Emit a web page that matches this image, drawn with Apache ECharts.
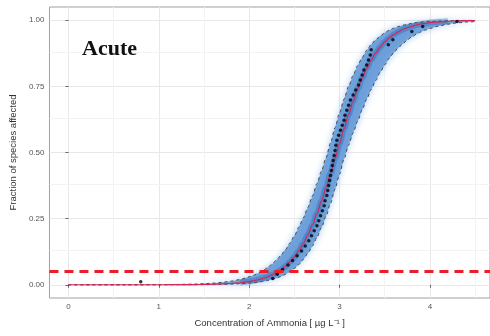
<!DOCTYPE html>
<html>
<head>
<meta charset="utf-8">
<script src="https://cdn.jsdelivr.net/npm/echarts@6/dist/echarts.min.js"></script>
<style>
  html, body { margin: 0; padding: 0; background: #fff; }
  #main { width: 490px; height: 336px; }
</style>
</head>
<body>
<div id="main"></div>
<script type="text/javascript">
// curve grid (log10 concentration) and fitted SSD curves
var curveX = [0, 0.6, 1.0, 1.1, 1.2, 1.3, 1.4, 1.5, 1.6, 1.7, 1.8, 1.9,
  2.0, 2.05, 2.1, 2.15, 2.2, 2.25, 2.3, 2.35, 2.4, 2.45, 2.5, 2.55, 2.6, 2.65, 2.7, 2.75, 2.8, 2.85, 2.9, 2.95,
  3.0, 3.05, 3.1, 3.15, 3.2, 3.25, 3.3, 3.35, 3.4, 3.45, 3.5, 3.55, 3.6, 3.65, 3.7, 3.75, 3.8, 3.85, 3.9, 3.95,
  4.0, 4.1, 4.2, 4.3, 4.4, 4.5];
var medianFit = [0, 0, 0.0001, 0.0002, 0.0003, 0.0005, 0.0008, 0.0013, 0.0020, 0.0031, 0.0049, 0.0077,
  0.012, 0.0151, 0.019, 0.0235, 0.029, 0.0366, 0.045, 0.0563, 0.070, 0.0862, 0.105, 0.129, 0.157, 0.190, 0.226,
  0.269, 0.316, 0.367, 0.421, 0.477, 0.534, 0.590, 0.644, 0.694, 0.740, 0.781, 0.818, 0.849, 0.876, 0.898, 0.918,
  0.933, 0.946, 0.956, 0.965, 0.972, 0.977, 0.982, 0.986, 0.988,
  0.991, 0.994, 0.996, 0.998, 0.9985, 0.999];
var upperCI = [0, 0, 0.0005, 0.0008, 0.0013, 0.0019, 0.0028, 0.0042, 0.0062, 0.0092, 0.0137, 0.020,
  0.030, 0.036, 0.044, 0.053, 0.064, 0.077, 0.093, 0.111, 0.132, 0.157, 0.185, 0.218, 0.254, 0.293, 0.336,
  0.382, 0.430, 0.480, 0.536, 0.594, 0.650, 0.702, 0.750, 0.791, 0.828, 0.859, 0.886, 0.908, 0.926, 0.940, 0.953,
  0.962, 0.970, 0.976, 0.981, 0.985, 0.988, 0.991, 0.993, 0.994,
  0.995, 0.997, 0.998, 0.999, 0.9993, 0.9995];
var lowerCI = [0, 0, 0, 0.0001, 0.0001, 0.0002, 0.0004, 0.0006, 0.0009, 0.0015, 0.0024, 0.0038,
  0.0061, 0.0077, 0.0098, 0.0124, 0.0157, 0.0198, 0.025, 0.031, 0.039, 0.050, 0.062, 0.077, 0.096, 0.119, 0.147,
  0.179, 0.216, 0.259, 0.308, 0.361, 0.418, 0.476, 0.528, 0.574, 0.618, 0.661, 0.701, 0.738, 0.772, 0.803, 0.831,
  0.856, 0.877, 0.896, 0.911, 0.926, 0.937, 0.947, 0.956, 0.963,
  0.969, 0.978, 0.985, 0.990, 0.993, 0.995];

// species toxicity values (x) and their plotting positions (y)
var speciesX = [0.80, 2.26, 2.31, 2.37, 2.43, 2.48, 2.53, 2.58, 2.62, 2.66, 2.69, 2.72, 2.75, 2.77, 2.79, 2.81,
  2.83, 2.84, 2.86, 2.87, 2.88, 2.89, 2.90, 2.91, 2.92, 2.93, 2.94, 2.95, 2.96, 2.97, 2.99, 3.01, 3.03, 3.05, 3.06,
  3.08, 3.10, 3.12, 3.15, 3.18, 3.21, 3.23, 3.25, 3.27, 3.30, 3.32, 3.34, 3.35, 3.54, 3.59, 3.80, 3.92, 4.30];
var speciesY = [0.011, 0.024, 0.040, 0.058, 0.075, 0.092, 0.110, 0.128, 0.147, 0.166, 0.185, 0.204, 0.223, 0.242,
  0.261, 0.280, 0.299, 0.318, 0.337, 0.356, 0.375, 0.394, 0.413, 0.432, 0.451, 0.470, 0.489, 0.508, 0.527, 0.546,
  0.565, 0.584, 0.603, 0.622, 0.641, 0.660, 0.679, 0.698, 0.717, 0.736, 0.755, 0.774, 0.793, 0.812, 0.831, 0.850,
  0.869, 0.888, 0.907, 0.926, 0.957, 0.976, 0.995];

var hazardLevel = 0.05;
var xTicks = [0, 1, 2, 3, 4];
var yTicks = [0, 0.25, 0.5, 0.75, 1];
var xMinor = [0.5, 1.5, 2.5, 3.5, 4.5];
var yMinor = [0.125, 0.375, 0.625, 0.875];

var pairs = function (xs, ys) {
  return xs.map(function (x, i) { return [x, ys[i]]; });
};
var coreData = pairs(curveX, medianFit).filter(function (d) { return d[0] >= 1.9 && d[0] <= 4.2; });

var minorLines = xMinor.map(function (v) { return { xAxis: v }; })
  .concat(yMinor.map(function (v) { return { yAxis: v }; }));

// confidence band drawn as one polygon: upper limit forward, lower limit back
function renderBand(params, api) {
  var pts = [];
  for (var i = 0; i < curveX.length; i++) pts.push(api.coord([curveX[i], upperCI[i]]));
  for (var j = curveX.length - 1; j >= 0; j--) pts.push(api.coord([curveX[j], lowerCI[j]]));
  return {
    type: 'polygon',
    shape: { points: pts },
    style: {
      fill: 'rgba(98,152,214,0.85)',
      shadowColor: 'rgba(140,186,236,0.9)', shadowBlur: 7
    }
  };
}

var myChart = echarts.init(document.getElementById('main'));
var option = {
  animation: false,
  backgroundColor: '#fff',
  title: {
    text: 'Acute',
    left: 77, top: 33,
    textStyle: { fontFamily: 'Liberation Serif', fontWeight: 'bold', fontSize: 22, color: '#111' }
  },
  grid: {
    left: 44, right: -1, top: 7, bottom: 38,
    show: true, borderColor: '#a0a0a0', borderWidth: 1
  },
  xAxis: {
    type: 'value', min: -0.21, max: 4.665,
    name: 'Concentration of Ammonia [ µg L⁻¹ ]',
    nameLocation: 'middle', nameGap: 20,
    nameTextStyle: { fontFamily: 'Liberation Sans', fontSize: 9.5, color: '#333' },
    axisLine: { show: false },
    axisTick: { customValues: xTicks, length: 3, lineStyle: { color: '#666' } },
    axisLabel: { customValues: xTicks, fontFamily: 'Liberation Sans', fontSize: 8, color: '#555', margin: 5 },
    splitLine: { show: true, lineStyle: { color: '#e8e8e8', width: 1 } }
  },
  yAxis: {
    type: 'value', min: -0.05, max: 1.05,
    name: 'Fraction of species affected',
    nameLocation: 'middle', nameGap: 28,
    nameTextStyle: { fontFamily: 'Liberation Sans', fontSize: 9.5, color: '#333' },
    axisLine: { show: false },
    axisTick: { customValues: yTicks, length: 3, lineStyle: { color: '#666' } },
    axisLabel: {
      customValues: yTicks, fontFamily: 'Liberation Sans', fontSize: 8, color: '#555', margin: 5,
      formatter: function (v) { return v.toFixed(2); }
    },
    splitLine: { show: true, lineStyle: { color: '#e8e8e8', width: 1 } }
  },
  series: [
    {
      // carrier for the faint minor grid lines, kept beneath everything
      name: 'minorGrid', type: 'line', z: 0,
      data: [[curveX[0], medianFit[0]]], showSymbol: false, silent: true,
      lineStyle: { opacity: 0 },
      markLine: {
        z: 0, silent: true, symbol: ['none', 'none'], label: { show: false },
        lineStyle: { color: '#f3f3f3', width: 1, type: 'solid' },
        data: minorLines
      }
    },
    {
      name: 'band', type: 'custom', z: 2,
      coordinateSystem: 'cartesian2d',
      data: [[curveX[0], lowerCI[0]]],
      renderItem: renderBand,
      silent: true
    },
    {
      name: 'core', type: 'line', z: 3,
      data: coreData, showSymbol: false, smooth: 0.3, smoothMonotone: 'x',
      lineStyle: { color: 'rgba(45,100,175,0.4)', width: 6 }
    },
    {
      name: 'upperCI', type: 'line', z: 4,
      data: pairs(curveX, upperCI), showSymbol: false, smooth: 0.3, smoothMonotone: 'x',
      lineStyle: { color: '#4a4a4a', width: 1, type: [3, 3] }
    },
    {
      name: 'lowerCI', type: 'line', z: 4,
      data: pairs(curveX, lowerCI), showSymbol: false, smooth: 0.3, smoothMonotone: 'x',
      lineStyle: { color: '#4a4a4a', width: 1, type: [3, 3] }
    },
    {
      name: 'median', type: 'line', z: 5,
      data: pairs(curveX, medianFit), showSymbol: false, smooth: 0.3, smoothMonotone: 'x',
      lineStyle: { color: '#d0285a', width: 1.2 }
    },
    {
      name: 'species', type: 'scatter', z: 6,
      data: pairs(speciesX, speciesY),
      symbolSize: 3.5, itemStyle: { color: '#000' },
      markLine: {
        z: 7, silent: true, symbol: ['none', 'none'], label: { show: false },
        lineStyle: { color: '#ee1c24', width: 3, type: [9, 6] },
        data: [{ yAxis: hazardLevel }]
      }
    }
  ]
};
myChart.setOption(option);
</script>
</body>
</html>
